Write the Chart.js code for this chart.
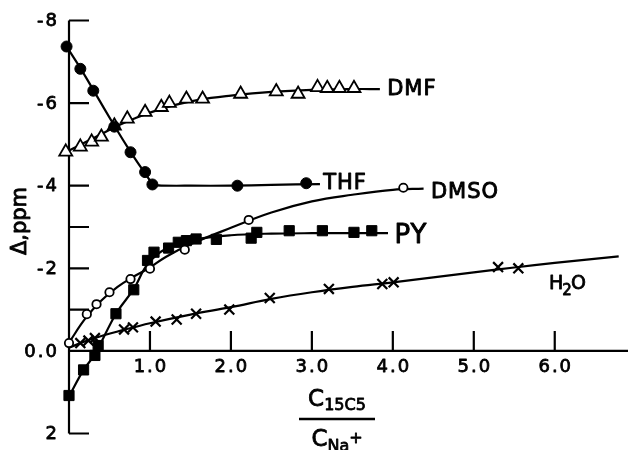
<!DOCTYPE html>
<html><head><meta charset="utf-8">
<script src="https://cdn.jsdelivr.net/npm/chart.js@4.4.1/dist/chart.umd.min.js"></script>
<style>html,body{margin:0;padding:0;background:#fff}canvas{display:block}</style>
</head><body>
<canvas id="c" width="628" height="450"></canvas>
<script>
// ---- data ----
const thfX = [-0.03, 0.14, 0.30, 0.56, 0.76, 0.94, 1.03, 2.08, 2.93];
const thfY = [-7.37, -6.83, -6.30, -5.43, -4.81, -4.33, -4.03, -4.00, -4.06];
const dmfX = [-0.04, 0.14, 0.28, 0.40, 0.56, 0.72, 0.94, 1.14, 1.24, 1.45, 1.65, 2.12, 2.56, 2.83, 3.07, 3.19, 3.34, 3.52];
const dmfY = [-4.82, -4.94, -5.06, -5.18, -5.45, -5.62, -5.78, -5.90, -6.00, -6.10, -6.10, -6.22, -6.28, -6.22, -6.38, -6.36, -6.36, -6.36];
const dmsoX = [0.00, 0.22, 0.34, 0.50, 0.76, 1.00, 1.43, 2.22, 4.13];
const dmsoY = [-0.19, -0.89, -1.13, -1.42, -1.74, -1.99, -2.45, -3.17, -3.95];
const pyX = [0.00, 0.18, 0.32, 0.36, 0.58, 0.80, 0.97, 1.05, 1.23, 1.35, 1.45, 1.57, 1.82, 2.25, 2.32, 2.72, 3.13, 3.52, 3.74];
const pyY = [1.08, 0.46, 0.11, -0.13, -0.90, -1.48, -2.19, -2.39, -2.49, -2.63, -2.67, -2.71, -2.70, -2.73, -2.87, -2.91, -2.91, -2.87, -2.91];
const h2oX = [0.14, 0.24, 0.32, 0.68, 0.79, 1.07, 1.33, 1.57, 1.98, 2.48, 3.21, 3.87, 4.01, 5.30, 5.55];
const h2oY = [-0.19, -0.25, -0.31, -0.52, -0.57, -0.71, -0.76, -0.90, -1.00, -1.28, -1.50, -1.62, -1.66, -2.03, -2.00];

// hand-drawn fitted curves
const thfCurveX = [-0.03, 0.14, 0.30, 0.56, 0.76, 0.94, 1.05, 1.5, 2.0, 2.5, 3.1];
const thfCurveY = [-7.37, -6.85, -6.32, -5.45, -4.82, -4.30, -4.02, -4.00, -4.00, -4.02, -4.04];
const dmfCurveX = [0, 0.2, 0.4, 0.6, 0.8, 1.0, 1.3, 1.6, 2.0, 2.5, 3.0, 3.5, 3.84];
const dmfCurveY = [-4.85, -5.05, -5.25, -5.45, -5.62, -5.77, -5.95, -6.08, -6.18, -6.27, -6.32, -6.34, -6.34];
const dmsoCurveX = [0, 0.2, 0.4, 0.6, 0.8, 1.0, 1.2, 1.5, 2.0, 2.5, 3.0, 3.5, 4.0, 4.38];
const dmsoCurveY = [-0.20, -0.78, -1.22, -1.55, -1.80, -2.02, -2.28, -2.58, -2.98, -3.35, -3.62, -3.78, -3.90, -3.93];
const pyCurveX = [0, 0.18, 0.32, 0.58, 0.80, 0.97, 1.2, 1.5, 2.0, 2.5, 3.0, 3.5, 3.94];
const pyCurveY = [1.10, 0.46, 0.08, -0.90, -1.50, -2.10, -2.48, -2.68, -2.80, -2.84, -2.85, -2.85, -2.85];
const h2oCurveX = [0, 0.3, 0.7, 1.0, 1.5, 2.0, 2.5, 3.0, 3.5, 4.0, 4.5, 5.0, 5.5, 6.0, 6.79];
const h2oCurveY = [-0.08, -0.30, -0.52, -0.67, -0.88, -1.06, -1.26, -1.42, -1.55, -1.66, -1.78, -1.90, -2.02, -2.13, -2.29];

const xTickVals = [1, 2, 3, 4, 5, 6];
const xTickLabels = ['1.0', '2.0', '3.0', '4.0', '5.0', '6.0'];
const yTickVals = [-8, -6, -4, -2, 0, 2];
const yTickLabels = ['-8', '-6', '-4', '-2', '0.0', '2'];
const yMinorTicks = [-3, -1];

// ---- chart ----
const pts = (xs, ys) => xs.map((v, i) => ({x: v, y: ys[i]}));
const FONT = '"DejaVu Sans", "Liberation Sans", sans-serif';

const curve = (xs, ys, tension) => ({
  type: 'line', data: pts(xs, ys), borderColor: '#000', borderWidth: 2.2,
  pointRadius: 0, tension: tension, fill: false, clip: false, order: 2
});
const marks = (xs, ys, style, r, fill, bw) => ({
  type: 'scatter', data: pts(xs, ys), showLine: false, pointStyle: style,
  pointRadius: r, backgroundColor: fill, borderColor: '#000', borderWidth: bw,
  clip: false, order: 1
});

const seriesLabels = [
  {text: 'DMF', x: 3.93, y: -6.34, size: 21},
  {text: 'THF', x: 3.14, y: -4.05, size: 21},
  {text: 'DMSO', x: 4.47, y: -3.84, size: 21},
  {text: 'PY', x: 4.02, y: -2.78, size: 26}
];

function boldText(ctx, t, px, py, w) {
  ctx.lineWidth = w;
  ctx.strokeText(t, px, py);
  ctx.fillText(t, px, py);
}

const axesPlugin = {
  id: 'handAxes',
  beforeDatasetsDraw(chart) {
    const {ctx, scales: {x, y}} = chart;
    const x0 = x.getPixelForValue(0), y0 = y.getPixelForValue(0);
    ctx.save();
    ctx.strokeStyle = '#000'; ctx.fillStyle = '#000'; ctx.lineWidth = 2.2;
    ctx.beginPath();
    ctx.moveTo(x0, y.getPixelForValue(-8)); ctx.lineTo(x0, y.getPixelForValue(2));
    ctx.moveTo(x0, y0); ctx.lineTo(chart.width, y0);
    yTickVals.concat(yMinorTicks).forEach(v => {
      if (v === 0) return;
      const p = y.getPixelForValue(v);
      ctx.moveTo(x0, p); ctx.lineTo(x0 + 20, p);
    });
    xTickVals.forEach(v => {
      const p = x.getPixelForValue(v);
      ctx.moveTo(p, y0); ctx.lineTo(p, y0 - 20);
    });
    ctx.stroke();
    ctx.lineJoin = 'round';

    ctx.font = '18px ' + FONT;
    ctx.letterSpacing = '2px';
    ctx.textAlign = 'right'; ctx.textBaseline = 'middle';
    yTickVals.forEach((v, i) => {
      boldText(ctx, yTickLabels[i], x0 - 10, y.getPixelForValue(v) + 1, 0.8);
    });
    ctx.textAlign = 'center';
    xTickVals.forEach((v, i) => {
      boldText(ctx, xTickLabels[i], x.getPixelForValue(v) + 1, y0 + 16, 0.8);
    });
    ctx.letterSpacing = '1px';

    // series labels
    ctx.textAlign = 'left';
    seriesLabels.forEach(l => {
      ctx.font = l.size + 'px ' + FONT;
      boldText(ctx, l.text, x.getPixelForValue(l.x), y.getPixelForValue(l.y), 0.9);
    });
    // H2O with subscript
    let hx = x.getPixelForValue(5.93), hy = y.getPixelForValue(-1.62);
    ctx.letterSpacing = '0px';
    ctx.font = '19px ' + FONT;
    boldText(ctx, 'H', hx, hy, 0.8); hx += ctx.measureText('H').width;
    ctx.font = '15px ' + FONT;
    boldText(ctx, '2', hx - 1, hy + 7, 0.8); hx += ctx.measureText('2').width - 2;
    ctx.font = '19px ' + FONT;
    boldText(ctx, 'O', hx, hy, 0.8);

    // y axis title
    ctx.save();
    ctx.translate(21, 221); ctx.rotate(-Math.PI / 2);
    ctx.font = '21px ' + FONT; ctx.textAlign = 'center';
    boldText(ctx, '\u0394,ppm', 0, 0, 0.9);
    ctx.restore();

    // x axis title (fraction)
    const cx = 337;
    ctx.textBaseline = 'alphabetic'; ctx.textAlign = 'left';
    ctx.font = '23px ' + FONT;
    const wC = ctx.measureText('C').width;
    ctx.font = '16px ' + FONT;
    const wS = ctx.measureText('15C5').width;
    let sx = cx - (wC + wS) / 2;
    ctx.font = '23px ' + FONT; boldText(ctx, 'C', sx, 406, 0.8);
    ctx.font = '16px ' + FONT; boldText(ctx, '15C5', sx + wC, 410, 0.8);
    ctx.lineWidth = 2.5;
    ctx.beginPath(); ctx.moveTo(cx - 38, 419); ctx.lineTo(cx + 38, 419); ctx.stroke();
    ctx.font = '16px ' + FONT;
    const wN = ctx.measureText('Na').width + ctx.measureText('+').width;
    sx = cx - (wC + wN) / 2;
    ctx.font = '23px ' + FONT; boldText(ctx, 'C', sx, 446, 0.8);
    ctx.font = '16px ' + FONT; boldText(ctx, 'Na', sx + wC, 451, 0.8);
    boldText(ctx, '+', sx + wC + ctx.measureText('Na').width, 443, 0.8);
    ctx.restore();
  }
};

new Chart(document.getElementById('c'), {
  data: {
    datasets: [
      curve(thfCurveX, thfCurveY, 0.15),
      curve(dmfCurveX, dmfCurveY, 0.4),
      curve(dmsoCurveX, dmsoCurveY, 0.4),
      curve(pyCurveX, pyCurveY, 0.35),
      curve(h2oCurveX, h2oCurveY, 0.4),
      marks(thfX, thfY, 'circle', 5.5, '#000', 1),
      marks(dmfX, dmfY, 'triangle', 7.5, '#fff', 1.8),
      marks(dmsoX, dmsoY, 'circle', 4.2, '#fff', 1.8),
      marks(pyX, pyY, 'rect', 7.2, '#000', 1),
      marks(h2oX, h2oY, 'crossRot', 7, '#000', 2.2)
    ]
  },
  options: {
    responsive: false, animation: false, devicePixelRatio: 1,
    layout: {padding: {left: 69, right: 0, top: 20.5, bottom: 16.5}},
    plugins: {legend: {display: false}, tooltip: {enabled: false}},
    scales: {
      x: {type: 'linear', min: 0, max: 6.79, display: false},
      y: {type: 'linear', min: -8, max: 2, reverse: true, display: false}
    }
  },
  plugins: [axesPlugin]
});
</script>
</body></html>
